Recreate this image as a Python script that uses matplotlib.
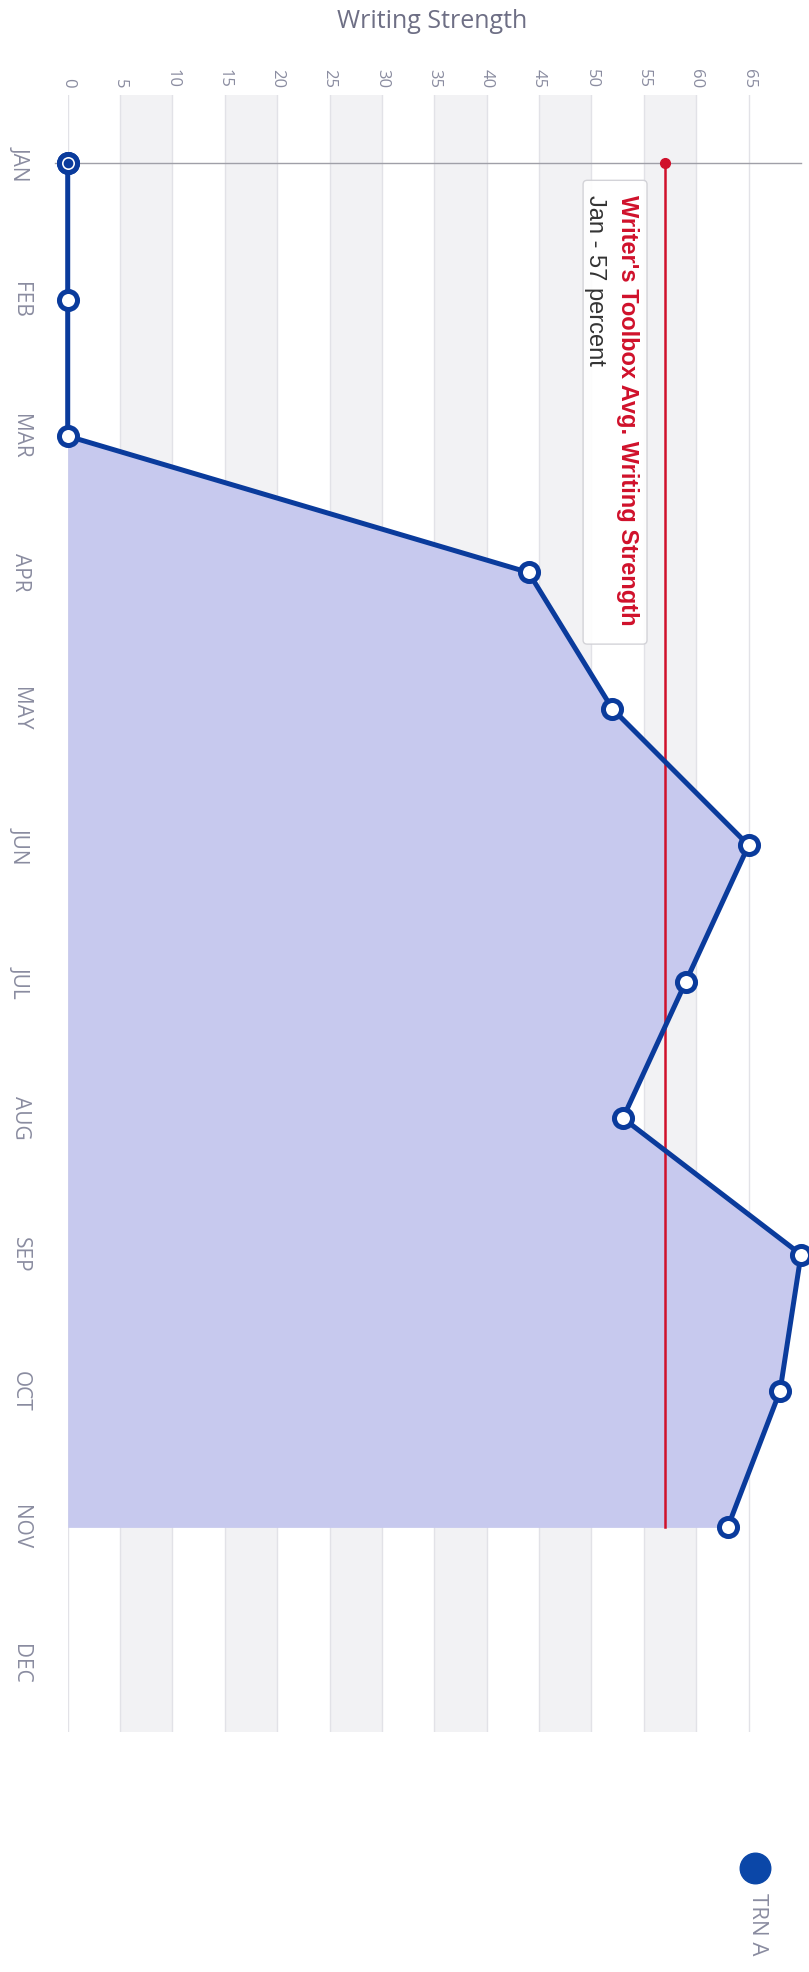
import numpy as np
import matplotlib
matplotlib.use('Agg')
import matplotlib.pyplot as plt
from matplotlib.patches import FancyBboxPatch

months = ['JAN', 'FEB', 'MAR', 'APR', 'MAY', 'JUN', 'JUL', 'AUG', 'SEP', 'OCT', 'NOV', 'DEC']
trn_a = [0, 0, 0, 44, 52, 65, 59, 53, 70, 68, 63, np.nan]
toolbox_avg = [57] * 11
value_ticks = list(range(0, 70, 5))

blue = '#0a3b9c'
red = '#d0112b'
grey_txt = '#8a8ca0'

plt.rcParams['font.family'] = ['Open Sans', 'DejaVu Sans']

fig = plt.figure(figsize=(8.09, 19.72), dpi=100)
ax = fig.add_axes([0.0837, 0.1217, 0.9064, 0.8301])

idx = np.arange(len(months))
vals = np.array(trn_a, dtype=float)

ax.set_xlim(0, 70)
ax.set_ylim(11.5, -0.5)

# alternating bands + grid
for lo in range(5, 60, 10):
    ax.axvspan(lo, lo + 5, color='#f2f2f4', zorder=0, lw=0)
for v in value_ticks:
    ax.axvline(v, color='#e2e2e7', lw=1, zorder=1)

for s in ax.spines.values():
    s.set_visible(False)

ax.xaxis.tick_top()
ax.set_xticks(value_ticks)
ax.set_xticklabels([str(v) for v in value_ticks])
ax.tick_params(axis='x', length=0, pad=5, labelsize=12, labelcolor=grey_txt, labelrotation=-90)
for lbl in ax.get_xticklabels():
    lbl.set_va('bottom')

ax.set_yticks(idx)
ax.set_yticklabels(months)
ax.tick_params(axis='y', length=0, pad=34, labelsize=15, labelcolor=grey_txt, labelrotation=-90)
for lbl in ax.get_yticklabels():
    lbl.set_va('center')
    lbl.set_ha('center')

# area + line
n = 11
ax.fill_betweenx(idx[:n], 0, vals[:n], color='#c7c9ee', lw=0, zorder=2)

# hover crosshair at JAN
ax.axhline(0, xmin=-0.018, color='#a0a0a8', lw=1, zorder=3, clip_on=False)

# average line
ax.plot(toolbox_avg, idx[:n], color=red, lw=1.8, zorder=4)
ax.plot(toolbox_avg[0], idx[0], 'o', ms=7, color=red, zorder=4)

ax.plot(vals, idx, color=blue, lw=3.6, marker='o', ms=13, mfc='white', mec=blue, mew=3.6,
        zorder=5, clip_on=False)
# highlighted point
ax.plot(vals[0], idx[0], 'o', ms=13, mfc='white', mec=blue, mew=3.6, zorder=6, clip_on=False)
ax.plot(vals[0], idx[0], 'o', ms=6, color=blue, zorder=7, clip_on=False)

# tooltip
box = FancyBboxPatch((49.2, 0.125), 6.1, 3.4, boxstyle='round,pad=0,rounding_size=0.4',
                     mutation_aspect=0.073, fc='white', ec='#cfcfd4', lw=1, alpha=0.9, zorder=8)
ax.add_patch(box)
ax.text(53.4, 0.235, "Writer's Toolbox Avg. Writing Strength", rotation=-90, ha='center', va='top',
        fontsize=17, fontweight='bold', color=red, family=['Liberation Sans', 'DejaVu Sans'], zorder=9)
ax.text(50.3, 0.235, 'Jan - 57 percent', rotation=-90, ha='center', va='top',
        fontsize=17, color='#333333', family=['Liberation Sans', 'DejaVu Sans'], zorder=9)

fig.text(432 / 809, 1 - 22 / 1972, 'Writing Strength', ha='center', va='center',
         fontsize=18, color='#6e6f85')

# legend
ax.plot([755 / 809], [1 - 1868 / 1972], 'o', ms=22, color='#0b47a8', transform=fig.transFigure,
        clip_on=False)
fig.text(757 / 809, 1 - 1893 / 1972, 'TRN A', rotation=-90, ha='center', va='top',
         fontsize=16, color=grey_txt)

fig.savefig('out.png', dpi=100, facecolor='white')
